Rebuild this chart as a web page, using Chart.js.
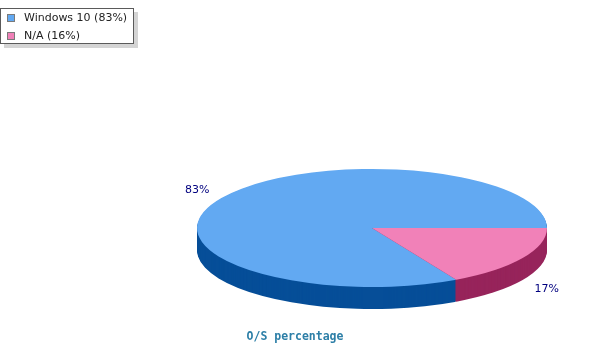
<!DOCTYPE html>
<html>
<head>
<meta charset="utf-8">
<title>O/S percentage</title>
<script src="https://cdn.jsdelivr.net/npm/chart.js@4.4.0/dist/chart.umd.min.js"></script>
<style>
    body { margin: 0; background: #ffffff; }
    #grafico { display: block; }
</style>
</head>
<body>
<canvas id="grafico" width="600" height="350"></canvas>
<script>
// dados do grafico
const categorias = ["Windows 10", "N/A"];
const valores = [83, 17];
const legendaTextos = ["Windows 10 (83%)", "N/A (16%)"];
const tituloGrafico = "O/S percentage";

const coresTopo = ["#62a9f2", "#f181b8"];
const coresLado = ["#064e98", "#97245b"];

// geometria da pizza 3D
const PIE_CX = 372;
const PIE_CY = 228;
const INCLINACAO = 59 / 175;
const PROFUNDIDADE = 22;
const LABEL_RX = 203;
const LABEL_RY = 97;

const total = valores.reduce((a, b) => a + b, 0);
// a fatia N/A comeca as 3 horas e desce no sentido horario
const rotacao = 90 + 360 * valores[1] / total;

function aplicarTransformacao(ctx, cy, dy) {
    ctx.translate(0, PIE_CY + dy);
    ctx.scale(1, INCLINACAO);
    ctx.translate(0, -cy);
}

const pizza3d = {
    id: "pizza3d",
    beforeDatasetsDraw(chart) {
        const ctx = chart.ctx;
        const arcos = chart.getDatasetMeta(0).data;
        const cx = arcos[0].x;
        const cy = arcos[0].y;

        // laterais: camadas escuras empilhadas
        for (let d = PROFUNDIDADE; d >= 1; d--) {
            ctx.save();
            aplicarTransformacao(ctx, cy, d);
            arcos.forEach((arco, i) => {
                ctx.beginPath();
                ctx.moveTo(cx, cy);
                ctx.arc(cx, cy, arco.outerRadius, arco.startAngle, arco.endAngle);
                ctx.closePath();
                ctx.fillStyle = coresLado[i];
                ctx.fill();
            });
            ctx.restore();
        }

        // topo desenhado pelo proprio Chart.js com a transformacao
        ctx.save();
        aplicarTransformacao(ctx, cy, 0);
    },
    afterDatasetsDraw(chart) {
        chart.ctx.restore();
    },
    afterDraw(chart) {
        const ctx = chart.ctx;
        const arcos = chart.getDatasetMeta(0).data;

        // rotulos de porcentagem
        ctx.save();
        ctx.font = "11px 'DejaVu Sans'";
        ctx.fillStyle = "#00007f";
        ctx.textAlign = "center";
        ctx.textBaseline = "middle";
        arcos.forEach((arco, i) => {
            const meio = (arco.startAngle + arco.endAngle) / 2;
            const x = PIE_CX + Math.cos(meio) * LABEL_RX;
            const y = PIE_CY + 12 + Math.sin(meio) * LABEL_RY;
            ctx.fillText(Math.round(valores[i] / total * 100) + "%", x, y);
        });
        ctx.restore();

        // titulo embaixo
        ctx.save();
        ctx.font = "bold 11.5px 'DejaVu Sans Mono'";
        ctx.fillStyle = "#2d7fa7";
        ctx.textAlign = "center";
        ctx.textBaseline = "alphabetic";
        ctx.fillText(tituloGrafico, 295, 340);
        ctx.restore();

        // legenda com sombra
        ctx.save();
        ctx.fillStyle = "#d4d4d4";
        ctx.fillRect(4, 12, 134, 36);
        ctx.fillStyle = "#ffffff";
        ctx.fillRect(0, 8, 134, 36);
        ctx.strokeStyle = "#5a5a5a";
        ctx.lineWidth = 1;
        ctx.strokeRect(0.5, 8.5, 133, 35);
        ctx.font = "11px 'DejaVu Sans'";
        ctx.textBaseline = "middle";
        ctx.textAlign = "left";
        legendaTextos.forEach((texto, i) => {
            const y = 18 + i * 18;
            ctx.fillStyle = coresTopo[i];
            ctx.fillRect(7, y - 4, 8, 8);
            ctx.strokeStyle = "#7a7a7a";
            ctx.strokeRect(7.5, y - 3.5, 7, 7);
            ctx.fillStyle = "#222222";
            ctx.fillText(texto, 24, y);
        });
        ctx.restore();
    }
};

new Chart(document.getElementById("grafico"), {
    type: "pie",
    data: {
        labels: categorias,
        datasets: [{
            data: valores,
            backgroundColor: coresTopo,
            borderWidth: 0
        }]
    },
    options: {
        responsive: false,
        animation: false,
        rotation: rotacao,
        layout: {
            padding: { left: PIE_CX - 175, right: 600 - PIE_CX - 175, top: 0, bottom: 0 }
        },
        plugins: {
            legend: { display: false },
            tooltip: { enabled: false }
        }
    },
    plugins: [pizza3d]
});
</script>
</body>
</html>
